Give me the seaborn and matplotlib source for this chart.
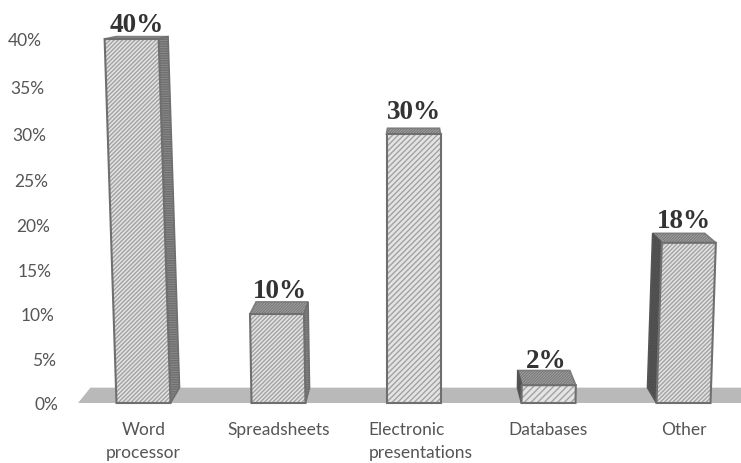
import matplotlib
matplotlib.use("Agg")
import matplotlib.pyplot as plt
from matplotlib.patches import Polygon
from matplotlib.transforms import Affine2D, ScaledTranslation
import numpy as np
import seaborn as sns

categories = ["Word\nprocessor", "Spreadsheets", "Electronic\npresentations", "Databases", "Other"]
shares = [40, 10, 30, 2, 18]
share_labels = ["40%", "10%", "30%", "2%", "18%"]
axis_ticks = [0, 5, 10, 15, 20, 25, 30, 35, 40]
axis_tick_labels = ["0%", "5%", "10%", "15%", "20%", "25%", "30%", "35%", "40%"]
face_hatches = ["////////", "////////", "//////", "/////", "////////"]

GREY_TEXT = "#555555"
EDGE = "#6f6f6f"
W, H = 741, 464
PX_PER_CAT = 135.0
AX_LEFT, AX_BOTTOM = 76, 404

sns.set_theme(style="white")
plt.rcParams["hatch.linewidth"] = 1.0
plt.rcParams["font.family"] = ["Lato", "DejaVu Sans"]

fig = plt.figure(figsize=(W / 100, H / 100), dpi=100)
ax = fig.add_axes([AX_LEFT / W, (H - AX_BOTTOM) / H, (W - AX_LEFT) / W, AX_BOTTOM / H])


# The value axis stretches toward the top, as it does in a tilted 3-D chart
def stretch(v):
    v = np.asarray(v, dtype=float)
    return 8.9 * v + 0.02 * np.clip(v - 20, 0, None) ** 2


def unstretch(p):
    p = np.asarray(p, dtype=float)
    upper = 20 + (-8.9 + np.sqrt(8.9 ** 2 + 0.08 * np.clip(p - 178, 0, None))) / 0.04
    return np.where(p > 178, upper, p / 8.9)


BAR_W = 0.4
sns.barplot(x=categories, y=shares, color="#e4e4e4", saturation=1, width=BAR_W,
            edgecolor="#a2a2a2", linewidth=0, ax=ax, zorder=3)

ax.set_yscale("function", functions=(stretch, unstretch))
ax.set_xlim((AX_LEFT - 143.5) / PX_PER_CAT, (W - 143.5) / PX_PER_CAT)
ax.set_ylim(0, float(unstretch(AX_BOTTOM)))

# One-point perspective: back faces shrink toward a vanishing point above the middle bar
VP_X, VP_Y = 2.0, 46.6
DEPTH = 0.037
LEAN = 0.0011
# Vertical nudge of each value label, in points
label_nudges = [-1, -1.5, 2, -3, -1]


def to_back(x, y):
    return x + DEPTH * (VP_X - x), y + DEPTH * (VP_Y - y)


def add_face(corners, color, hatch, zorder=2.5, edge=EDGE):
    ax.add_patch(Polygon(corners, closed=True, facecolor=color, edgecolor=edge,
                         linewidth=1.2, hatch=hatch, zorder=zorder))


# Floor plane
x_left, x_right = ax.get_xlim()
floor_front_left = (-0.485, 0)
floor_back_left = to_back(*floor_front_left)
floor_y = floor_back_left[1]
ax.add_patch(Polygon([floor_front_left, floor_back_left, (x_right, floor_y), (x_right, 0)],
                     closed=True, facecolor="#b9b9b9", edgecolor="none", zorder=1, clip_on=False))

for i, (bar, value, label, hatch) in enumerate(zip(ax.patches, shares, share_labels, face_hatches)):
    bar.set_hatch(hatch)
    shear = LEAN * (i - VP_X)
    bar.set_transform(Affine2D.from_values(1, 0, shear, 1, 0, 0) + ax.transData)

    left, right = bar.get_x(), bar.get_x() + bar.get_width()
    top_l = (left + shear * value, value)
    top_r = (right + shear * value, value)
    bot_l, bot_r = (left, 0), (right, 0)

    # Outline of the front face, darker than its hatching
    ax.add_patch(Polygon([bot_l, top_l, top_r, bot_r], closed=True, facecolor="none",
                         edgecolor=EDGE, linewidth=1.5, zorder=4, clip_on=False))

    # Top face
    add_face([top_l, top_r, to_back(*top_r), to_back(*top_l)], "#b0b0b0", "////////////", edge="#7c7c7c")

    # Side face toward the vanishing point
    if i < VP_X:
        add_face([top_r, bot_r, to_back(*bot_r), to_back(*top_r)], "#8a8a8a", "-------")
    elif i > VP_X:
        add_face([top_l, bot_l, to_back(*bot_l), to_back(*top_l)], "#4e4e4e", "......", edge="#555555")

    back_l, back_r = to_back(*top_l), to_back(*top_r)
    label_x = (back_l[0] + back_r[0] + top_l[0] + top_r[0]) / 4
    ax.annotate(label, (label_x, back_l[1]), xytext=(0, 1 + label_nudges[i]),
                textcoords="offset points", ha="center", va="bottom",
                family=["Liberation Serif"], fontweight="bold", fontsize=19.5,
                color="#333333", zorder=5, annotation_clip=False)

ax.set_yticks(axis_ticks, axis_tick_labels)
ax.minorticks_off()
ax.tick_params(axis="both", length=0, labelsize=12.5, labelcolor=GREY_TEXT)
ax.tick_params(axis="x", pad=13)
for tick, value in zip(ax.yaxis.get_major_ticks(), axis_ticks):
    # The value scale leans with the perspective of the floor
    tick.set_pad((AX_LEFT - (58 - 0.4 * value)) * 0.72)
for text in ax.get_xticklabels():
    text.set_linespacing(1.5)
    if "\n" in text.get_text():
        text.set_multialignment("center")
# The two-line middle label sits left-aligned and a little right of its bar
middle = ax.get_xticklabels()[2]
middle.set_multialignment("left")
middle.set_transform(middle.get_transform() + ScaledTranslation(7 / 100, 0, fig.dpi_scale_trans))

ax.set_xlabel("")
ax.set_ylabel("")
sns.despine(ax=ax, left=True, bottom=True, top=True, right=True)

fig.savefig("out.png", dpi=100, facecolor="white")
